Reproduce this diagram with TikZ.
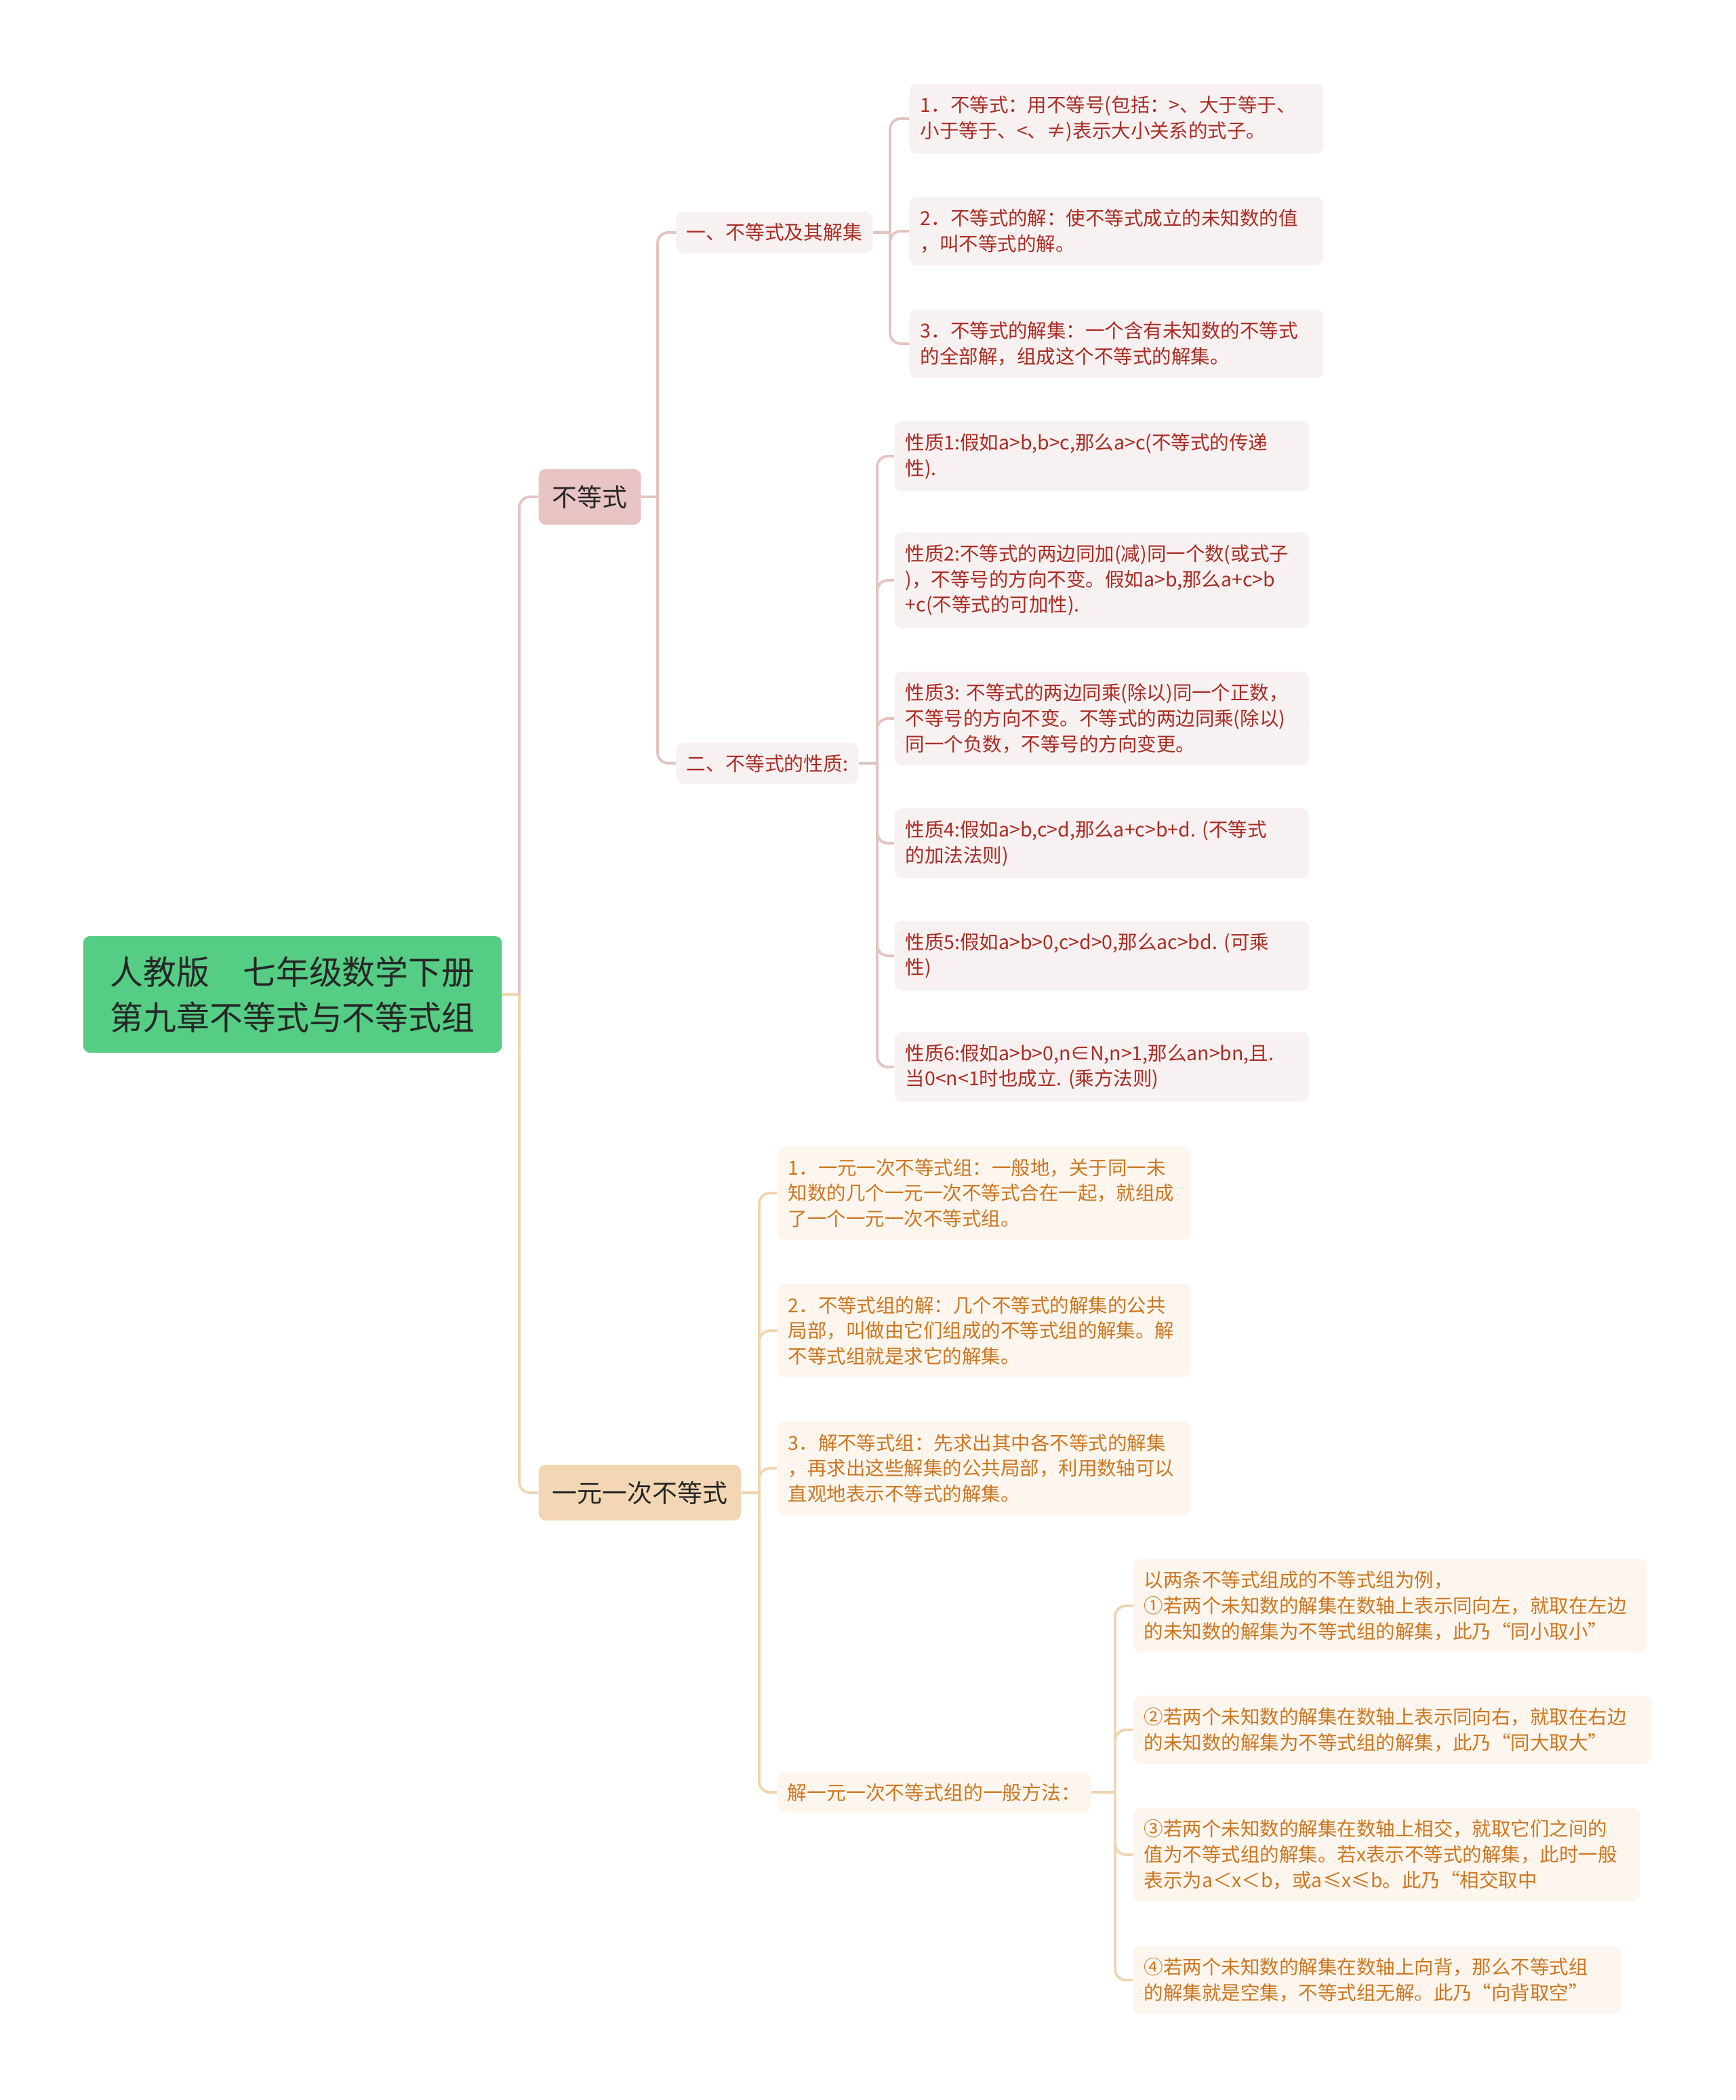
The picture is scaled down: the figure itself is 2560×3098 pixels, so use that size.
\documentclass[tikz,border=0pt]{standalone}
\usepackage{fontspec}
\setmainfont{Noto Sans CJK SC}
\usetikzlibrary{calc, positioning}
\definecolor{rootgreen}{HTML}{55CD85}
\definecolor{pinknode}{HTML}{E9C4C4}
\definecolor{pinkline}{HTML}{E4C3C3}
\definecolor{pinkleaf}{HTML}{F8F1F1}
\definecolor{pinktext}{HTML}{A82D24}
\definecolor{tannode}{HTML}{F3D6B4}
\definecolor{tanline}{HTML}{F0D5B2}
\definecolor{tanleaf}{HTML}{FDF6EE}
\definecolor{tantext}{HTML}{CC7720}
\definecolor{darktext}{HTML}{262626}

\begin{document}
\begin{tikzpicture}[x=0.01cm, y=-0.01cm,
  rootbox/.style={fill=rootgreen, rounded corners=3pt, inner xsep=0.4cm, inner ysep=0.3cm,
    align=center, text=darktext, font=\fontsize{13.9pt}{19pt}\selectfont},
  mainbox/.style={rounded corners=3pt, inner xsep=0.2cm, inner ysep=0.24cm,
    text=darktext, font=\fontsize{10.5pt}{13pt}\selectfont},
  subbox/.style={rounded corners=3pt, inner xsep=0.15cm, inner ysep=0.17cm,
    font=\fontsize{8.2pt}{10.7pt}\selectfont},
  leafbox/.style={rounded corners=3pt, inner xsep=0.16cm, inner ysep=0.18cm,
    align=left, font=\fontsize{8.1pt}{10.7pt}\selectfont},
  pinksub/.style={subbox, fill=pinkleaf, text=pinktext},
  pinkleafbox/.style={leafbox, fill=pinkleaf, text=pinktext},
  tansub/.style={subbox, fill=tanleaf, text=tantext},
  tanleafbox/.style={leafbox, fill=tanleaf, text=tantext},
  pinkedge/.style={draw=pinkline, line width=1.1pt},
  tanedge/.style={draw=tanline, line width=1.1pt},
  elbow/.style={rounded corners=4.5pt}]
\useasboundingbox (0,0) rectangle (2560,3098);

\node[rootbox, anchor=west] (root) at (122,1467) {人教版\hspace{1em}七年级数学下册\\第九章不等式与不等式组};

\node[mainbox, fill=pinknode, anchor=west] (neq) at (794,733) {不等式};
\node[mainbox, fill=tannode, anchor=west] (yyc) at (794,2202) {一元一次不等式};

\node[pinksub, anchor=west] (sec1) at (997,343) {一、不等式及其解集};
\node[pinksub, anchor=west] (sec2) at (997,1126) {二、不等式的性质:};

\node[pinkleafbox, text width=5.78cm, anchor=west] (L1) at (1341,175) {1．不等式：用不等号(包括：>、大于等于、\\小于等于、<、≠)表示大小关系的式子。};
\node[pinkleafbox, text width=5.78cm, anchor=west] (L2) at (1341,341) {2．不等式的解：使不等式成立的未知数的值\\，叫不等式的解。};
\node[pinkleafbox, text width=5.78cm, anchor=west] (L3) at (1341,507) {3．不等式的解集：一个含有未知数的不等式\\的全部解，组成这个不等式的解集。};

\node[pinkleafbox, text width=5.79cm, anchor=west] (P1) at (1319,673) {性质1:假如a>b,b>c,那么a>c(不等式的传递\\性).};
\node[pinkleafbox, text width=5.79cm, anchor=west] (P2) at (1319,856) {性质2:不等式的两边同加(减)同一个数(或式子\\)，不等号的方向不变。假如a>b,那么a+c>b\\+c(不等式的可加性).};
\node[pinkleafbox, text width=5.79cm, anchor=west] (P3) at (1319,1060) {性质3:~不等式的两边同乘(除以)同一个正数，\\不等号的方向不变。不等式的两边同乘(除以)\\同一个负数，不等号的方向变更。};
\node[pinkleafbox, text width=5.79cm, anchor=west] (P4) at (1319,1244) {性质4:假如a>b,c>d,那么a+c>b+d.~(不等式\\的加法法则)};
\node[pinkleafbox, text width=5.79cm, anchor=west] (P5) at (1319,1410) {性质5:假如a>b>0,c>d>0,那么ac>bd.~(可乘\\性)};
\node[pinkleafbox, text width=5.79cm, anchor=west] (P6) at (1319,1574) {性质6:假如a>b>0,n∈N,n>1,那么an>bn,且.\\当0<n<1时也成立.~(乘方法则)};

\node[tanleafbox, text width=5.78cm, anchor=west] (Y1) at (1146,1760) {1．一元一次不等式组：一般地，关于同一未\\知数的几个一元一次不等式合在一起，就组成\\了一个一元一次不等式组。};
\node[tanleafbox, text width=5.78cm, anchor=west] (Y2) at (1146,1963) {2．不等式组的解：几个不等式的解集的公共\\局部，叫做由它们组成的不等式组的解集。解\\不等式组就是求它的解集。};
\node[tanleafbox, text width=5.78cm, anchor=west] (Y3) at (1146,2166) {3．解不等式组：先求出其中各不等式的解集\\，再求出这些解集的公共局部，利用数轴可以\\直观地表示不等式的解集。};
\node[tansub, anchor=west] (meth) at (1146,2644) {解一元一次不等式组的一般方法：};

\node[tanleafbox, text width=7.26cm, anchor=west] (M1) at (1671,2369) {以两条不等式组成的不等式组为例，\\①若两个未知数的解集在数轴上表示同向左，就取在左边\\的未知数的解集为不等式组的解集，此乃“同小取小”};
\node[tanleafbox, text width=7.32cm, anchor=west] (M2) at (1671,2552) {②若两个未知数的解集在数轴上表示同向右，就取在右边\\的未知数的解集为不等式组的解集，此乃“同大取大”};
\node[tanleafbox, text width=7.15cm, anchor=west] (M3) at (1671,2736) {③若两个未知数的解集在数轴上相交，就取它们之间的\\值为不等式组的解集。若x表示不等式的解集，此时一般\\表示为a＜x＜b，或a≤x≤b。此乃“相交取中};
\node[tanleafbox, text width=6.87cm, anchor=west] (M4) at (1671,2921) {④若两个未知数的解集在数轴上向背，那么不等式组\\的解集就是空集，不等式组无解。此乃“向背取空”};

\coordinate (F0) at (766,1467);
\coordinate (F1) at (970,733);
\coordinate (F2) at (1313,343);
\coordinate (F3) at (1294,1126);
\coordinate (F4) at (1120,2202);
\coordinate (F5) at (1645,2644);

\draw[tanedge] (root.east) -- (F0);
\draw[pinkedge, elbow] (F0) |- (neq.west);
\draw[tanedge, elbow] (F0) |- (yyc.west);

\draw[pinkedge] (neq.east) -- (F1);
\foreach \n in {sec1, sec2}
  \draw[pinkedge, elbow] (F1) |- (\n.west);

\draw[pinkedge] (sec1.east) -- (F2);
\foreach \n in {L1, L2, L3}
  \draw[pinkedge, elbow] (F2) |- (\n.west);

\draw[pinkedge] (sec2.east) -- (F3);
\foreach \n in {P1, P2, P3, P4, P5, P6}
  \draw[pinkedge, elbow] (F3) |- (\n.west);

\draw[tanedge] (yyc.east) -- (F4);
\foreach \n in {Y1, Y2, Y3, meth}
  \draw[tanedge, elbow] (F4) |- (\n.west);

\draw[tanedge] (meth.east) -- (F5);
\foreach \n in {M1, M2, M3, M4}
  \draw[tanedge, elbow] (F5) |- (\n.west);
\end{tikzpicture}
\end{document}
